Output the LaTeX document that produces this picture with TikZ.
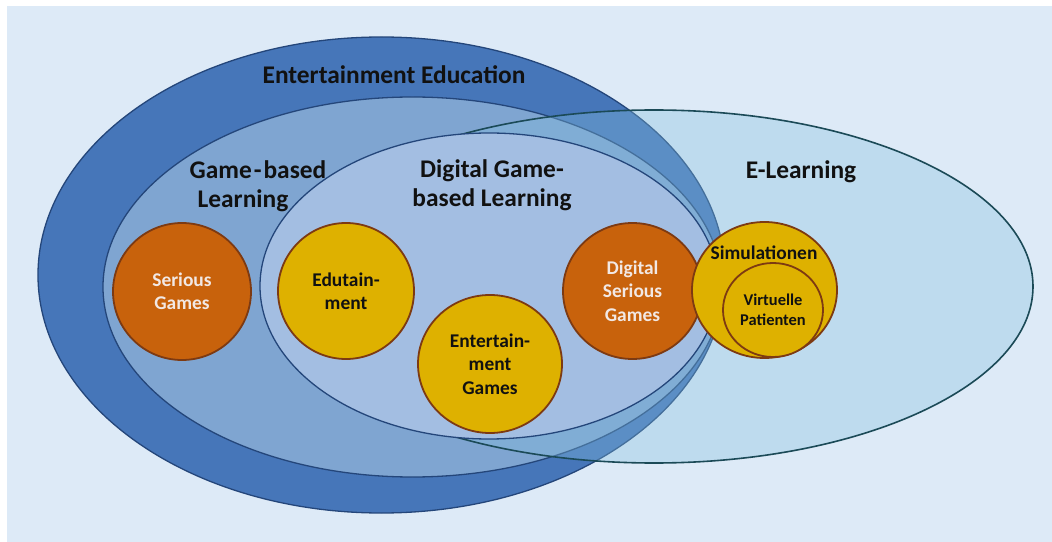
\documentclass[tikz,border=0pt]{standalone}
\usepackage{fontspec}
\setmainfont{Carlito}
\usetikzlibrary{shapes.geometric}

\definecolor{bgblue}{HTML}{DDEAF7}
\definecolor{eefill}{HTML}{4676B9}
\definecolor{gblfill}{HTML}{7FA5D1}
\definecolor{dgblfill}{HTML}{A3BEE2}
\definecolor{navyline}{HTML}{24467A}
\definecolor{elfill}{HTML}{84BFDD}
\definecolor{elline}{HTML}{1B4A57}
\definecolor{orangefill}{HTML}{C8620C}
\definecolor{goldfill}{HTML}{DEB100}
\definecolor{brownline}{HTML}{7D3A12}
\definecolor{paletext}{HTML}{F2E8E4}
\definecolor{darktext}{HTML}{111111}

\begin{document}
\begin{tikzpicture}[x=1bp,y=-1bp,
  region/.style={ellipse, draw=navyline, line width=1.3bp, inner sep=0pt},
  setcircle/.style={ellipse, draw=brownline, line width=1.8bp, inner sep=0pt,
    align=center, font=\fontsize{19.5}{23.5}\selectfont\bfseries},
  orangeset/.style={setcircle, fill=orangefill, text=paletext},
  goldset/.style={setcircle, fill=goldfill, text=darktext},
  biglabel/.style={align=center, text=darktext,
    font=\fontsize{25.5}{29.5}\selectfont\bfseries}
]
\useasboundingbox (0,0) rectangle (1052,542);
\fill[white] (0,0) rectangle (1052,542);
\fill[bgblue] (7,6) rectangle (1052,542);

% nested sets
\node[region, fill=eefill, minimum width=687bp, minimum height=476bp] (ee) at (381.5,275) {};
\node[region, fill=gblfill, minimum width=619bp, minimum height=380bp] (gbl) at (412.5,287) {};
\node[region, draw=elline, line width=1.6bp, fill=elfill, fill opacity=0.34,
      minimum width=758bp, minimum height=353bp] (el) at (654,286.5) {};
\node[region, fill=dgblfill, minimum width=458bp, minimum height=306bp] (dgbl) at (489,286) {};

% set labels
\node[biglabel] (eelabel) at (394,75) {Entertainment Education};
\node[biglabel] (gbllabel) at (258,186) {Game\hspace{2bp}-\hspace{2bp}based\\Learning\hspace*{30bp}};
\node[biglabel] (dgbllabel) at (492,185) {Digital Game-\\based Learning};
\node[biglabel] (ellabel) at (801,172) {E-Learning};

% individual forms
\node[orangeset, minimum width=138bp, minimum height=137bp] (serious) at (182,291.5) {Serious\\Games};
\node[goldset, minimum width=136bp, minimum height=136bp] (edu) at (346,291) {Edutain-\\ment};
\node[goldset, minimum width=144bp, minimum height=138bp] (entgames) at (490,364) {Entertain-\\ment\\Games};
\node[orangeset, minimum width=139bp, minimum height=136bp] (dsg) at (632.5,291) {Digital\\Serious\\Games};
\node[goldset, minimum width=145bp, minimum height=136bp] (sim) at (764.5,290) {};
\node[goldset, minimum width=100bp, minimum height=94bp,
      font=\fontsize{16.5}{19.5}\selectfont\bfseries] (vp) at (773,310) {Virtuelle\\Patienten};
\node[text=darktext, font=\fontsize{19.5}{23.5}\selectfont\bfseries] (simlabel) at (764,253) {Simulationen};
\end{tikzpicture}
\end{document}
